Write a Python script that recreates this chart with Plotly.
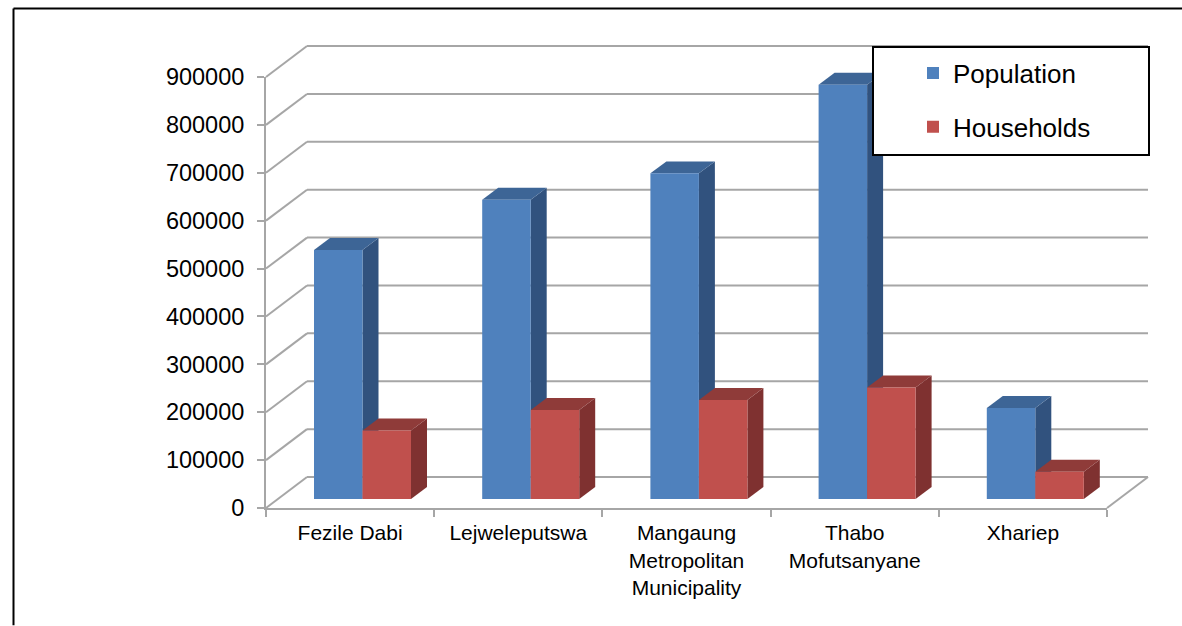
import plotly.graph_objects as go

categories = ["Fezile Dabi", "Lejweleputswa", "Mangaung<br>Metropolitan<br>Municipality", "Thabo<br>Mofutsanyane", "Xhariep"]
population = [520000, 625000, 680000, 865000, 190000]
households = [143000, 186000, 207000, 233000, 57000]
y_ticks = [0, 100000, 200000, 300000, 400000, 500000, 600000, 700000, 800000, 900000]

# pixel geometry of the 3D box
L, R, T, B = 266.0, 1107.0, 77.0, 508.5
N_CAT = len(categories)
V_MAX = y_ticks[-1]
PXU = (R - L) / N_CAT      # pixels per category
PXV = (B - T) / V_MAX      # pixels per value


def dx(px):
    return px / PXU


def dv(px):
    return px / PXV


def paper_x(px):
    return (px - L) / (R - L)


def paper_y(py):
    return (B - py) / (B - T)


def u2p(u):
    return u / N_CAT


def v2p(v):
    return v / V_MAX


WALL_X, WALL_V = dx(41), dv(31)
BAR_W = dx(48.5)
BAR_X0 = dx(48)            # left edge of blue bar inside its category
BASE = dv(9)
DEPTH_X, DEPTH_V = dx(16), dv(12)

GRID = "#A6A6A6"
BLUE, BLUE_SIDE, BLUE_TOP = "#4F81BD", "#31527E", "#3D6596"
RED, RED_SIDE, RED_TOP = "#C0504D", "#7F3130", "#8F3B39"

shapes = []


def line(x0, y0, x1, y1):
    shapes.append(dict(type="line", x0=u2p(x0), y0=v2p(y0), x1=u2p(x1), y1=v2p(y1), xref="paper", yref="paper",
                       layer="below", line=dict(color=GRID, width=2)))


for v in y_ticks:
    line(0, v, WALL_X, v + WALL_V)
    line(WALL_X, v + WALL_V, N_CAT + WALL_X, v + WALL_V)
line(N_CAT, 0, N_CAT + WALL_X, WALL_V)


def poly(points, color):
    path = "M " + " L ".join(f"{u2p(x)},{v2p(y)}" for x, y in points) + " Z"
    shapes.append(dict(type="path", path=path, xref="paper", yref="paper", layer="below",
                       fillcolor=color, line=dict(width=0)))


blue_x = [i + BAR_X0 + BAR_W / 2 for i in range(N_CAT)]
red_x = [i + BAR_X0 + BAR_W * 1.5 for i in range(N_CAT)]

for xs, vals, side, top in [(blue_x, population, BLUE_SIDE, BLUE_TOP), (red_x, households, RED_SIDE, RED_TOP)]:
    for x, v in zip(xs, vals):
        xr = x + BAR_W / 2
        xl = x - BAR_W / 2
        t = v + BASE
        poly([(xr, BASE), (xr + DEPTH_X, BASE + DEPTH_V), (xr + DEPTH_X, t + DEPTH_V), (xr, t)], side)
        poly([(xl, t), (xr, t), (xr + DEPTH_X, t + DEPTH_V), (xl + DEPTH_X, t + DEPTH_V)], top)

# legend box and outer frame
shapes.append(dict(type="rect", xref="paper", yref="paper", layer="above",
                   x0=paper_x(873), x1=paper_x(1149), y0=paper_y(155), y1=paper_y(47),
                   fillcolor="white", line=dict(color="black", width=2)))
for a, b, c, d in [(13.5, 8.5, 1182, 8.5), (13.5, 8.5, 13.5, 626)]:
    shapes.append(dict(type="line", xref="paper", yref="paper", layer="above",
                       x0=paper_x(a), y0=paper_y(b), x1=paper_x(c), y1=paper_y(d),
                       line=dict(color="black", width=2)))

fig = go.Figure()
fig.add_bar(name="Population", x=blue_x, y=population, base=BASE, width=BAR_W,
            marker=dict(color=BLUE, line=dict(width=0)), legend="legend2")
fig.add_bar(name="Households", x=red_x, y=households, base=BASE, width=BAR_W,
            marker=dict(color=RED, line=dict(width=0)), legend="legend3")

fontfam = "Liberation Sans, Arial, sans-serif"
leg = dict(xanchor="left", yanchor="middle", bgcolor="rgba(0,0,0,0)", borderwidth=0,
           font=dict(size=26, color="black", family=fontfam))

fig.update_layout(
    width=1182, height=626,
    margin=dict(l=L, r=1182 - R, t=T, b=626 - B, autoexpand=False),
    paper_bgcolor="white", plot_bgcolor="white",
    barmode="overlay",
    font=dict(family=fontfam, color="black"),
    shapes=shapes,
    legend2=dict(leg, x=paper_x(913), y=paper_y(73)),
    legend3=dict(leg, x=paper_x(913), y=paper_y(127)),
    xaxis=dict(
        range=[0, N_CAT], showgrid=False, zeroline=False, showline=True, linecolor=GRID, linewidth=2,
        tickmode="array", tickvals=[i + 0.5 for i in range(N_CAT)], ticktext=categories, ticks="",
        tickfont=dict(size=21), ticklabelstandoff=5,
        minor=dict(tickmode="array", tickvals=list(range(N_CAT + 1)), ticks="outside", ticklen=7, tickcolor=GRID, tickwidth=2, showgrid=False),
    ),
    yaxis=dict(
        range=[0, V_MAX], showgrid=False, zeroline=False, showline=True, linecolor=GRID, linewidth=2,
        tickmode="array", tickvals=y_ticks, ticks="outside", ticklen=7, tickcolor=GRID, tickwidth=2,
        tickfont=dict(size=23.5), ticklabelstandoff=8, tickformat="d",
    ),
)

fig.write_html("out.html", post_script="document.body.style.margin='0';", config={"displayModeBar": False})
